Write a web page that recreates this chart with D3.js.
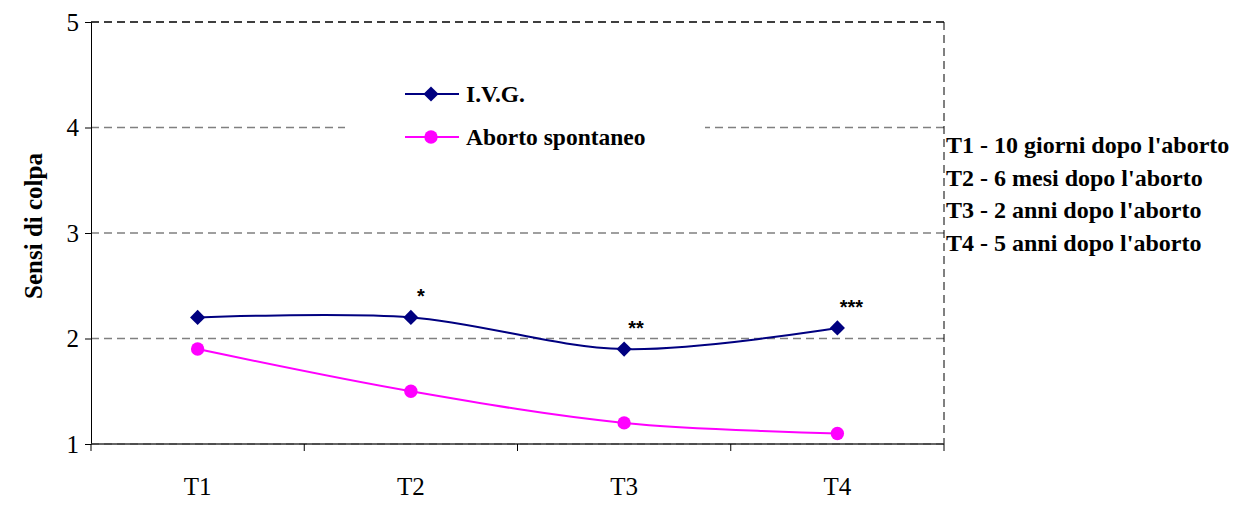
<!DOCTYPE html>
<html>
<head>
<meta charset="utf-8">
<script src="https://cdn.jsdelivr.net/npm/d3@7"></script>
<style>
  body { margin: 0; background: #fff; }
  svg { display: block; font-family: "Liberation Serif", "Times New Roman", serif; }
</style>
</head>
<body>
<div id="chart"></div>
<script>
const categories = ["T1", "T2", "T3", "T4"];
const ivgValues = [2.2, 2.2, 1.9, 2.1];
const spontValues = [1.9, 1.5, 1.2, 1.1];
const yTicks = [1, 2, 3, 4, 5];
const stars = [
  { cat: "T2", value: 2.2, text: "*" },
  { cat: "T3", value: 1.9, text: "**" },
  { cat: "T4", value: 2.1, text: "***" },
];
const notes = [
  "T1 - 10 giorni dopo l'aborto",
  "T2 - 6 mesi dopo l'aborto",
  "T3 - 2 anni dopo l'aborto",
  "T4 - 5 anni dopo l'aborto",
];

const width = 1237, height = 513;
const margin = { top: 22, right: 293, bottom: 69, left: 91 };
const innerWidth = width - margin.left - margin.right;
const innerHeight = height - margin.top - margin.bottom;

const svg = d3.select("#chart").append("svg").attr("width", width).attr("height", height);
const g = svg.append("g").attr("transform", `translate(${margin.left},${margin.top})`);

const x = d3.scaleBand().domain(categories).range([0, innerWidth]);
const y = d3.scaleLinear().domain([1, 5]).range([innerHeight, 0]);
const cx = (c) => x(c) + x.bandwidth() / 2;

// grid lines
g.append("g")
  .selectAll("line")
  .data(yTicks)
  .join("line")
  .attr("x1", 0)
  .attr("x2", innerWidth)
  .attr("y1", (d) => y(d))
  .attr("y2", (d) => y(d))
  .attr("stroke", (d) => (d === 5 ? "#000" : "#808080"))
  .attr("stroke-width", 1.3)
  .attr("stroke-dasharray", "8,5");

// right border
g.append("line")
  .attr("x1", innerWidth).attr("x2", innerWidth)
  .attr("y1", 0).attr("y2", innerHeight)
  .attr("stroke", "#000").attr("stroke-dasharray", "8,5");

// axes
const yAxis = g.append("g").call(d3.axisLeft(y).tickValues(yTicks).tickSize(6).tickPadding(6).tickFormat(d3.format("d")));
yAxis.select(".domain").attr("stroke", "#000");
yAxis.selectAll("text")
  .attr("font-size", 25)
  .attr("fill", "#000")
  .attr("font-family", "Liberation Serif, Times New Roman, serif");

const xAxis = g.append("g").attr("transform", `translate(0,${innerHeight})`);
xAxis.append("line").attr("x1", 0).attr("x2", innerWidth).attr("stroke", "#333").attr("stroke-width", 1.3);
xAxis.selectAll("line.tk")
  .data(d3.range(categories.length + 1))
  .join("line")
  .attr("class", "tk")
  .attr("x1", (i) => i * x.bandwidth())
  .attr("x2", (i) => i * x.bandwidth())
  .attr("y1", 0).attr("y2", 7)
  .attr("stroke", "#000");
xAxis.selectAll("text")
  .data(categories)
  .join("text")
  .attr("x", (d) => cx(d))
  .attr("y", 51)
  .attr("text-anchor", "middle")
  .attr("font-size", 25)
  .text((d) => d);

svg.append("text")
  .attr("transform", `translate(42,226) rotate(-90)`)
  .attr("text-anchor", "middle")
  .attr("font-weight", "bold")
  .attr("font-size", 25)
  .text("Sensi di colpa");

// legend box (hides the gridline behind it)
const legend = g.append("g").attr("transform", `translate(${345 - margin.left},${70 - margin.top})`);
legend.append("rect").attr("width", 360).attr("height", 105).attr("fill", "#fff");

const line = d3.line()
  .x((d, i) => cx(categories[i]))
  .y((d) => y(d))
  .curve(d3.curveCardinal.tension(0));

const series = [
  { name: "I.V.G.", values: ivgValues, color: "#000080", shape: d3.symbolSquare, size: 115, rot: 45 },
  { name: "Aborto spontaneo", values: spontValues, color: "#ff00ff", shape: d3.symbolCircle, size: 140, rot: 0 },
];

series.forEach((s, k) => {
  g.append("path")
    .datum(s.values)
    .attr("d", line)
    .attr("fill", "none")
    .attr("stroke", s.color)
    .attr("stroke-width", 2);
  g.selectAll(null)
    .data(s.values)
    .join("path")
    .attr("transform", (d, i) => `translate(${cx(categories[i])},${y(d)}) rotate(${s.rot})`)
    .attr("d", d3.symbol(s.shape, s.size))
    .attr("fill", s.color);

  const ly = 24 + k * 43;
  legend.append("line").attr("x1", 60).attr("x2", 114).attr("y1", ly).attr("y2", ly).attr("stroke", s.color).attr("stroke-width", 2);
  legend.append("path")
    .attr("transform", `translate(86,${ly}) rotate(${s.rot})`)
    .attr("d", d3.symbol(s.shape, s.size))
    .attr("fill", s.color);
  legend.append("text")
    .attr("x", 121).attr("y", ly + 8)
    .attr("font-weight", "bold").attr("font-size", 23.5)
    .text(s.name);
});

// significance stars
g.selectAll("text.star")
  .data(stars)
  .join("text")
  .attr("class", "star")
  .attr("x", (d) => cx(d.cat) + 8 + d.text.length * 2)
  .attr("y", (d) => y(d.value) - 14)
  .attr("text-anchor", "middle")
  .attr("font-family", "Liberation Sans, Arial, sans-serif")
  .attr("font-weight", "bold")
  .attr("font-size", 20)
  .text((d) => d.text);

// notes on the right
svg.selectAll("text.note")
  .data(notes)
  .join("text")
  .attr("class", "note")
  .attr("x", 946)
  .attr("y", (d, i) => 153 + i * 32.5)
  .attr("font-weight", "bold")
  .attr("font-size", 24)
  .text((d) => d);
</script>
</body>
</html>
